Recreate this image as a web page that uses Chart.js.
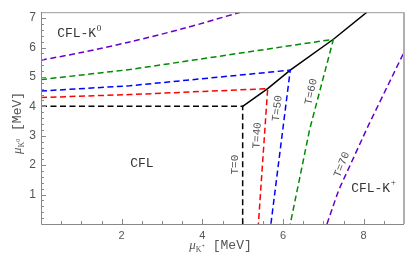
<!DOCTYPE html>
<html>
<head>
<meta charset="utf-8">
<script src="https://cdn.jsdelivr.net/npm/chart.js@4"></script>
<style>
  html, body { margin: 0; padding: 0; background: #fff; }
  canvas { display: block; }
</style>
</head>
<body>
<canvas id="phaseChart" width="415" height="257"></canvas>
<script>
// axis ranges and tick labels
const xRange = [0, 9];
const yRange = [0, 7.2];
const xTickLabels = [2, 4, 6, 8];
const yTickLabels = [1, 2, 3, 4, 5, 6, 7];

// phase boundaries (mu_K+ , mu_K0 in MeV)
const t0X = [0, 5, 5];
const t0Y = [4, 4, 0];
const t40X = [0, 2.2, 5.62, 5.39];
const t40Y = [4.30, 4.40, 4.60, 0];
const t50X = [0, 2.2, 6.18, 5.70];
const t50Y = [4.52, 4.70, 5.23, 0];
const t60X = [0, 2.2, 7.25, 6.66, 6.18];
const t60Y = [4.91, 5.25, 6.28, 3.21, 0];
const t70LeftX = [0, 1, 2.2, 3.57, 4.94];
const t70LeftY = [5.57, 5.83, 6.19, 6.66, 7.2];
const t70RightX = [7.09, 7.38, 8.12, 8.99];
const t70RightY = [0, 1.15, 3.36, 5.81];
const boundaryX = [5, 5.62, 6.18, 7.25, 8.08];
const boundaryY = [4, 4.60, 5.23, 6.28, 7.2];

// region and temperature labels: [text, sup, x, y] / [text, x, y, rotation in degrees]
const regionLabels = [
    ['CFL-K', '0', 0.40, 6.46],
    ['CFL', '', 2.21, 2.05],
    ['CFL-K', '+', 7.69, 1.22]
];
const tempLabels = [
    ['T=0', 4.81, 2.02, -90],
    ['T=40', 5.36, 3.01, -87],
    ['T=50', 5.86, 3.93, -83],
    ['T=60', 6.70, 4.50, -78],
    ['T=70', 7.46, 2.02, -68]
];

function toPoints(xs, ys) {
    return xs.map((x, i) => ({ x: x, y: ys[i] }));
}

function dashed(xs, ys, color, tension) {
    return {
        data: toPoints(xs, ys),
        borderColor: color,
        borderWidth: 1.5,
        borderDash: [6, 3.5],
        pointRadius: 0,
        showLine: true,
        tension: tension || 0
    };
}

const monoFont = '"Liberation Mono", "DejaVu Sans Mono", monospace';
const isNear = (v, list) => list.some(t => Math.abs(v - t) < 1e-6);

const framePlugin = {
    id: 'frame',
    afterDatasetsDraw(chart) {
        const { ctx, chartArea: a, scales: { x, y } } = chart;
        ctx.save();

        // frame
        ctx.lineWidth = 1;
        ctx.strokeStyle = '#9a9a9a';
        ctx.beginPath();
        ctx.moveTo(a.left, a.top + 0.5);
        ctx.lineTo(a.right, a.top + 0.5);
        ctx.stroke();
        ctx.lineWidth = 2;
        ctx.strokeStyle = '#b0b0b0';
        ctx.beginPath();
        ctx.moveTo(a.right, a.top);
        ctx.lineTo(a.right, a.bottom);
        ctx.stroke();
        ctx.lineWidth = 1;
        ctx.strokeStyle = '#888';
        ctx.beginPath();
        ctx.moveTo(a.left + 0.5, a.top);
        ctx.lineTo(a.left + 0.5, a.bottom + 0.5);
        ctx.lineTo(a.right, a.bottom + 0.5);
        ctx.stroke();

        // inward ticks
        ctx.strokeStyle = '#888';
        ctx.beginPath();
        x.ticks.forEach(t => {
            if (t.value <= xRange[0] || t.value >= xRange[1]) return;
            const px = Math.round(x.getPixelForValue(t.value)) + 0.5;
            const len = isNear(t.value, xTickLabels) ? 5 : 3;
            ctx.moveTo(px, a.bottom);
            ctx.lineTo(px, a.bottom - len);
        });
        y.ticks.forEach(t => {
            if (t.value <= yRange[0] || t.value >= yRange[1]) return;
            const py = Math.round(y.getPixelForValue(t.value)) + 0.5;
            const len = isNear(t.value, yTickLabels) ? 5 : 3;
            ctx.moveTo(a.left, py);
            ctx.lineTo(a.left + len, py);
        });
        ctx.stroke();

        // region labels
        ctx.fillStyle = '#333';
        ctx.textBaseline = 'middle';
        regionLabels.forEach(([text, sup, vx, vy]) => {
            const px = x.getPixelForValue(vx);
            const py = y.getPixelForValue(vy);
            ctx.font = '13px ' + monoFont;
            ctx.textAlign = 'left';
            ctx.fillText(text, px, py);
            const w = ctx.measureText(text).width;
            if (sup) {
                ctx.font = '9px "Liberation Serif", serif';
                ctx.fillText(sup, px + w + 0.5, py - 5);
            }
        });

        // temperature labels
        ctx.fillStyle = '#555';
        ctx.font = '11px ' + monoFont;
        ctx.textAlign = 'center';
        tempLabels.forEach(([text, vx, vy, rot]) => {
            ctx.save();
            ctx.translate(x.getPixelForValue(vx), y.getPixelForValue(vy));
            ctx.rotate(rot * Math.PI / 180);
            ctx.fillText(text, 0, 0);
            ctx.restore();
        });

        // axis titles
        function axisTitle(sub, cx, cy) {
            ctx.fillStyle = '#555';
            ctx.textBaseline = 'alphabetic';
            ctx.textAlign = 'left';
            const parts = [
                ['italic 13px "Liberation Serif", serif', '\u03bc', 0],
                ['8px "Liberation Serif", serif', 'K', 3],
                ['6px "Liberation Serif", serif', sub, -1],
                ['13px ' + monoFont, ' [MeV]', 0]
            ];
            let total = 0;
            parts.forEach(p => { ctx.font = p[0]; total += ctx.measureText(p[1]).width; });
            let cur = cx - total / 2;
            parts.forEach(p => {
                ctx.font = p[0];
                ctx.fillText(p[1], cur, cy + p[2]);
                cur += ctx.measureText(p[1]).width;
            });
        }
        axisTitle('+', (a.left + a.right) / 2 - 2, 249);
        ctx.save();
        ctx.translate(21, 123);
        ctx.rotate(-Math.PI / 2);
        axisTitle('0', 0, 0);
        ctx.restore();

        ctx.restore();
    }
};

const config = {
    type: 'scatter',
    data: {
        datasets: [
            dashed(t70LeftX, t70LeftY, 'rgb(102, 0, 204)', 0.3),
            dashed(t70RightX, t70RightY, 'rgb(102, 0, 204)'),
            dashed(t60X, t60Y, 'rgb(0, 140, 0)'),
            dashed(t50X, t50Y, 'rgb(0, 0, 255)'),
            dashed(t40X, t40Y, 'rgb(255, 0, 0)'),
            dashed(t0X, t0Y, '#000'),
            {
                data: toPoints(boundaryX, boundaryY),
                borderColor: '#000',
                borderWidth: 1.5,
                pointRadius: 0,
                showLine: true
            }
        ]
    },
    options: {
        responsive: false,
        animation: false,
        events: [],
        layout: { padding: { top: 1, right: 11, left: 0, bottom: 0 } },
        plugins: {
            legend: { display: false },
            tooltip: { enabled: false }
        },
        scales: {
            x: {
                type: 'linear',
                min: xRange[0],
                max: xRange[1],
                afterFit: s => { s.height = 33; },
                grid: { display: false, drawTicks: false },
                border: { display: false },
                ticks: {
                    stepSize: 0.5,
                    autoSkip: false,
                    maxRotation: 0,
                    padding: 5,
                    color: '#555',
                    font: { family: '"Liberation Sans", sans-serif', size: 11 },
                    callback: v => isNear(v, xTickLabels) ? String(v) : ''
                }
            },
            y: {
                type: 'linear',
                min: yRange[0],
                max: yRange[1],
                afterFit: s => { s.width = 41; },
                grid: { display: false, drawTicks: false },
                border: { display: false },
                ticks: {
                    stepSize: 0.2,
                    autoSkip: false,
                    padding: 5,
                    color: '#555',
                    font: { family: '"Liberation Sans", sans-serif', size: 12 },
                    callback: v => isNear(v, yTickLabels) ? String(Math.round(v)) : ''
                }
            }
        }
    },
    plugins: [framePlugin]
};

new Chart(document.getElementById('phaseChart').getContext('2d'), config);
</script>
</body>
</html>
